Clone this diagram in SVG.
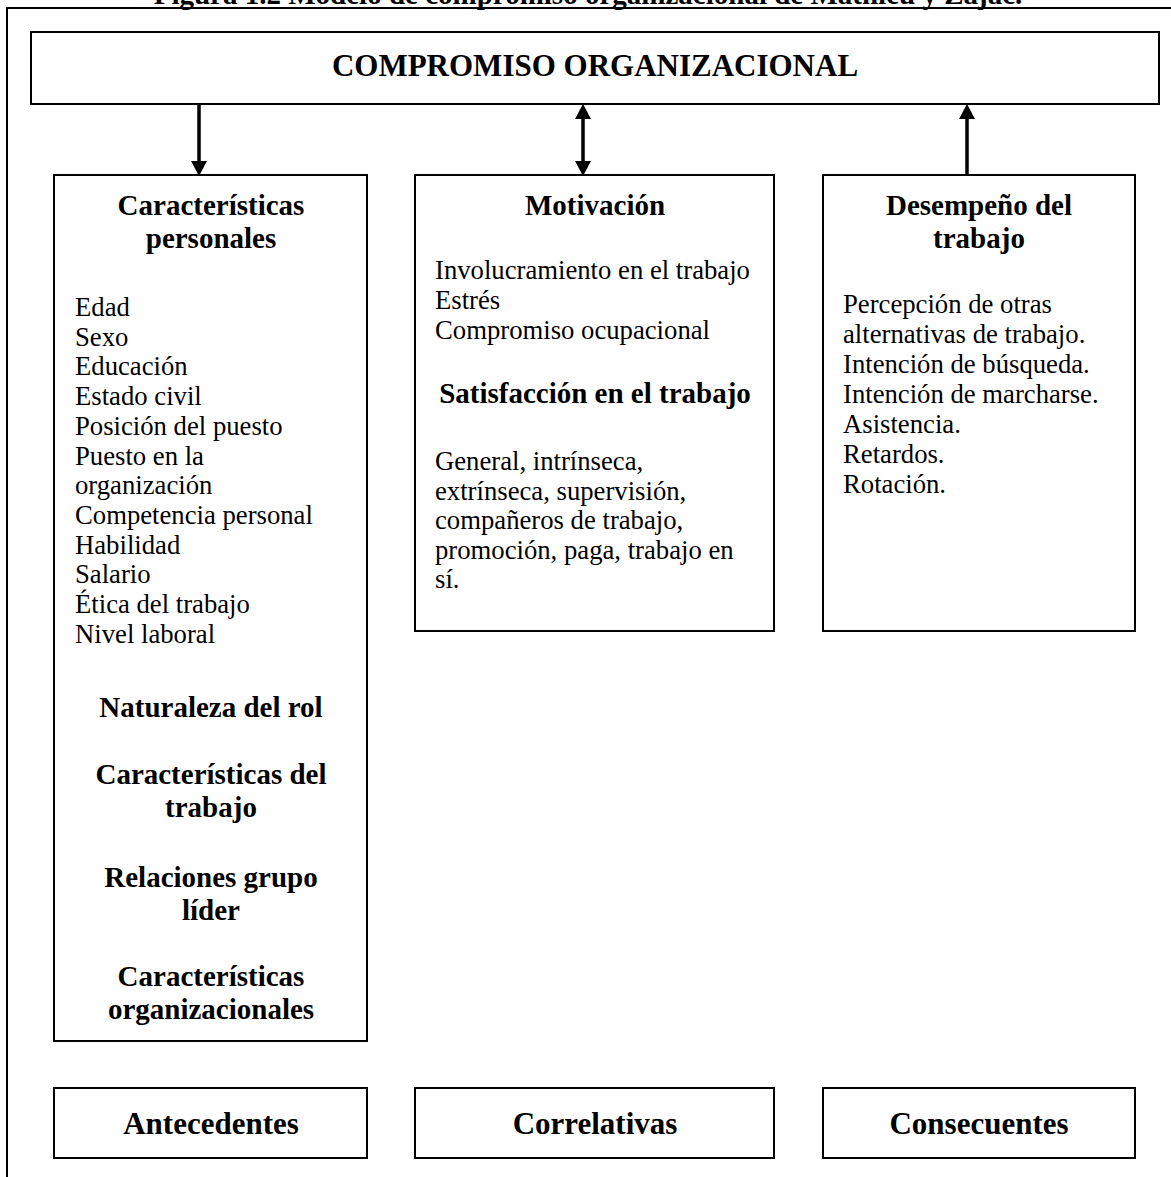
<svg xmlns="http://www.w3.org/2000/svg" width="1171" height="1177" viewBox="0 0 1171 1177">
<defs>
<style>
.box{fill:#fff;stroke:#000;stroke-width:2}
.frame{fill:none;stroke:#000;stroke-width:2}
.conn{stroke:#000;stroke-width:3.5;fill:none}
text{font-family:"Liberation Serif","Times New Roman",serif;fill:#000}
.b{font-weight:bold;font-size:29px;text-anchor:middle}
.big{font-weight:bold;font-size:31px;text-anchor:middle}
.r{font-size:26.7px}
</style>
<marker id="ah" viewBox="0 0 15 16" refX="0" refY="8" markerWidth="15" markerHeight="16" markerUnits="userSpaceOnUse" orient="auto-start-reverse">
<path d="M0,0 L15,8 L0,16 z" fill="#000"/>
</marker>
</defs>
<rect width="1171" height="1177" fill="#fff"/>
<text class="b" x="588" y="4">Figura 1.2 Modelo de compromiso organizacional de Mathieu y Zajac.</text>
<path class="frame" d="M7,1177 L7,8 L1171,8"/>
<g id="node-compromiso">
<rect class="box" x="31" y="32" width="1128" height="72"/>
<text class="big" x="595" y="76">COMPROMISO ORGANIZACIONAL</text>
</g>
<g id="connectors">
<line class="conn" x1="199" y1="104" x2="199" y2="161" marker-end="url(#ah)"/>
<line class="conn" x1="583" y1="119" x2="583" y2="161" marker-start="url(#ah)" marker-end="url(#ah)"/>
<line class="conn" x1="967" y1="175" x2="967" y2="119" marker-end="url(#ah)"/>
</g>
<g id="node-antecedentes-content">
<rect class="box" x="54" y="175" width="313" height="866"/>
<text class="b" x="211" y="215">Características</text>
<text class="b" x="211" y="248">personales</text>
<text class="r" x="75" y="316">Edad</text>
<text class="r" x="75" y="345.7">Sexo</text>
<text class="r" x="75" y="375.4">Educación</text>
<text class="r" x="75" y="405.1">Estado civil</text>
<text class="r" x="75" y="434.8">Posición del puesto</text>
<text class="r" x="75" y="464.5">Puesto en la</text>
<text class="r" x="75" y="494.2">organización</text>
<text class="r" x="75" y="523.9">Competencia personal</text>
<text class="r" x="75" y="553.6">Habilidad</text>
<text class="r" x="75" y="583.3">Salario</text>
<text class="r" x="75" y="613">Ética del trabajo</text>
<text class="r" x="75" y="642.7">Nivel laboral</text>
<text class="b" x="211" y="717">Naturaleza del rol</text>
<text class="b" x="211" y="784">Características del</text>
<text class="b" x="211" y="817">trabajo</text>
<text class="b" x="211" y="887">Relaciones grupo</text>
<text class="b" x="211" y="920">líder</text>
<text class="b" x="211" y="986">Características</text>
<text class="b" x="211" y="1019">organizacionales</text>
</g>
<g id="node-motivacion">
<rect class="box" x="415" y="175" width="359" height="456"/>
<text class="b" x="595" y="215">Motivación</text>
<text class="r" x="435" y="279">Involucramiento en el trabajo</text>
<text class="r" x="435" y="309">Estrés</text>
<text class="r" x="435" y="339">Compromiso ocupacional</text>
<text class="b" x="595" y="403">Satisfacción en el trabajo</text>
<text class="r" x="435" y="470">General, intrínseca,</text>
<text class="r" x="435" y="499.5">extrínseca, supervisión,</text>
<text class="r" x="435" y="529">compañeros de trabajo,</text>
<text class="r" x="435" y="558.5">promoción, paga, trabajo en</text>
<text class="r" x="435" y="588">sí.</text>
</g>
<g id="node-desempeno">
<rect class="box" x="823" y="175" width="312" height="456"/>
<text class="b" x="979" y="215">Desempeño del</text>
<text class="b" x="979" y="248">trabajo</text>
<text class="r" x="843" y="313">Percepción de otras</text>
<text class="r" x="843" y="343">alternativas de trabajo.</text>
<text class="r" x="843" y="373">Intención de búsqueda.</text>
<text class="r" x="843" y="403">Intención de marcharse.</text>
<text class="r" x="843" y="433">Asistencia.</text>
<text class="r" x="843" y="463">Retardos.</text>
<text class="r" x="843" y="493">Rotación.</text>
</g>
<g id="node-antecedentes">
<rect class="box" x="54" y="1088" width="313" height="70"/>
<text class="big" x="211" y="1134">Antecedentes</text>
</g>
<g id="node-correlativas">
<rect class="box" x="415" y="1088" width="359" height="70"/>
<text class="big" x="595" y="1134">Correlativas</text>
</g>
<g id="node-consecuentes">
<rect class="box" x="823" y="1088" width="312" height="70"/>
<text class="big" x="979" y="1134">Consecuentes</text>
</g>
</svg>
